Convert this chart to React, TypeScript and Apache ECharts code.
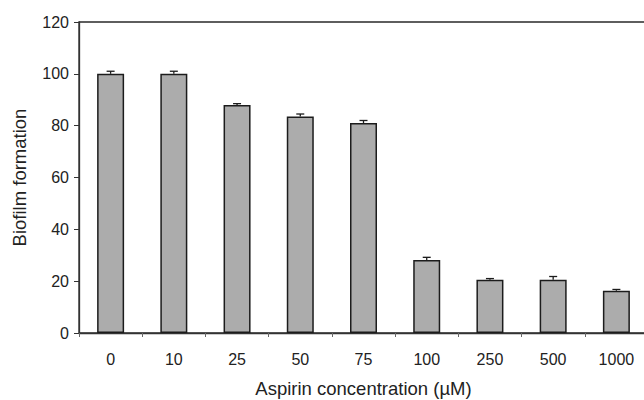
import React, { useEffect, useRef } from "react";
import * as echarts from "echarts";

const categories = ["0", "10", "25", "50", "75", "100", "250", "500", "1000"];
const values = [100, 100, 88, 83.5, 81, 28.2, 20.5, 20.5, 16.3];
const errors = [1, 1, 0.5, 1, 1, 1, 0.5, 1.3, 0.5];
const yTicks = [0, 20, 40, 60, 80, 100, 120];

export default function App() {
  const ref = useRef<HTMLDivElement>(null);
  useEffect(() => {
    document.body.style.margin = "0";
    const chart = echarts.init(ref.current!, null, { renderer: "svg" });
    const font = "Liberation Sans, Arial, sans-serif";
    chart.setOption({
      animation: false,
      backgroundColor: "#ffffff",
      grid: {
        left: 79,
        top: 22,
        width: 569,
        height: 311,
        show: true,
        borderColor: "#2a2a2a",
        borderWidth: 1.3,
        outerBoundsMode: "none",
        containLabel: false,
      },
      xAxis: {
        type: "category",
        data: categories,
        name: "Aspirin concentration (µM)",
        nameLocation: "middle",
        nameGap: 46,
        nameTextStyle: { fontFamily: font, fontSize: 18.5, color: "#222" },
        axisLine: { lineStyle: { color: "#333", width: 1.3 } },
        axisTick: { show: true, length: 4, inside: false, lineStyle: { color: "#666" } },
        axisLabel: { fontFamily: font, fontSize: 16, color: "#222", margin: 18 },
      },
      yAxis: {
        type: "value",
        min: 0,
        max: 120,
        interval: 20,
        name: "Biofilm formation",
        nameLocation: "middle",
        nameGap: 50,
        nameTextStyle: { fontFamily: font, fontSize: 18.5, color: "#222" },
        splitLine: { show: false },
        axisLine: { show: true, lineStyle: { color: "#333", width: 1.3 } },
        axisTick: { show: true, length: 5, lineStyle: { color: "#333" } },
        axisLabel: {
          fontFamily: font,
          fontSize: 16,
          color: "#222",
          margin: 10,
          formatter: (v: number) => (yTicks.includes(v) ? String(v) : ""),
        },
      },
      series: [
        {
          type: "bar",
          data: values,
          barWidth: 27,
          itemStyle: { color: "#acacac", borderColor: "#1c1c1c", borderWidth: 1.5 },
        },
        {
          type: "custom",
          data: values.map((v, i) => [i, v, v + errors[i]]),
          renderItem: (params: any, api: any) => {
            const x = api.coord([api.value(0), api.value(1)])[0];
            const y0 = api.coord([api.value(0), api.value(1)])[1];
            const y1 = api.coord([api.value(0), api.value(2)])[1];
            const style = { stroke: "#1c1c1c", lineWidth: 1.3 };
            return {
              type: "group",
              children: [
                { type: "line", shape: { x1: x, y1: y0, x2: x, y2: y1 }, style },
                { type: "line", shape: { x1: x - 4, y1: y1, x2: x + 4, y2: y1 }, style },
              ],
            };
          },
          z: 3,
        },
      ],
    });
    return () => chart.dispose();
  }, []);
  return <div ref={ref} style={{ width: 644, height: 400 }} />;
}
